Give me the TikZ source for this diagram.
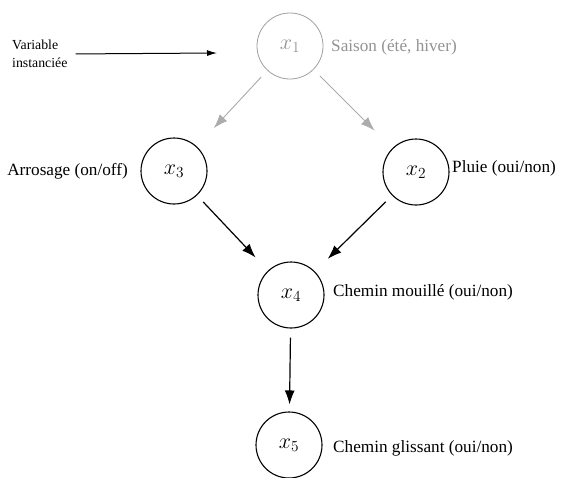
\RequirePackage{fix-cm}
\documentclass[tikz,border=0pt]{standalone}
\usepackage{fontspec}
\setmainfont{Liberation Serif}
\usetikzlibrary{arrows.meta}
\tikzset{
  var/.style={circle,draw,line width=1.1pt,minimum size=66pt,inner sep=0pt,font=\fontsize{22}{22}\selectfont},
  instvar/.style={var,draw=gray!75,line width=0.8pt,text=gray!85},
  lbl/.style={inner sep=0pt,font=\fontsize{17.2}{17.2}\selectfont},
  link/.style={-{Latex[length=14pt,width=10pt]},line width=1.2pt,shorten <=9pt,shorten >=18pt},
  glink/.style={link,draw=gray!65,fill=gray!65,line width=0.9pt,shorten >=25pt}
}
\begin{document}
\begin{tikzpicture}[x=1pt,y=-1pt]
\useasboundingbox (0,0) rectangle (561,477);
% variables
\node[instvar] (x1) at (290,46) {$x_1$};
\node[var] (x3) at (174,171) {$x_3$};
\node[var] (x2) at (416,172) {$x_2$};
\node[var] (x4) at (291,295) {$x_4$};
\node[var] (x5) at (289,445) {$x_5$};
% labels
\node[lbl,text=gray!85,anchor=west] (saison) at (331,47) {Saison (été, hiver)};
\node[lbl,anchor=east] (arros) at (128,171) {Arrosage (on/off)};
\node[lbl,anchor=west] (pluie) at (452,168) {Pluie (oui/non)};
\node[lbl,anchor=west] (mouille) at (333,292) {Chemin mouillé (oui/non)};
\node[lbl,anchor=west] (gliss) at (333,448) {Chemin glissant (oui/non)};
\node[lbl,font=\fontsize{13.8}{18}\selectfont,align=left,anchor=west] (instlbl) at (12,54) {Variable\\instanciée};
\coordinate (tip) at (217,53);
% arcs
\draw[-{Latex[length=10pt,width=6pt]},line width=1pt,shorten <=8pt] (instlbl.east) -- (tip);
\draw[glink] (x1) -- (x3);
\draw[glink] (x1) -- (x2);
\draw[link] (x3) -- (x4);
\draw[link] (x2) -- (x4);
\draw[link,shorten >=7pt] (x4) -- (x5);
\end{tikzpicture}
\end{document}
